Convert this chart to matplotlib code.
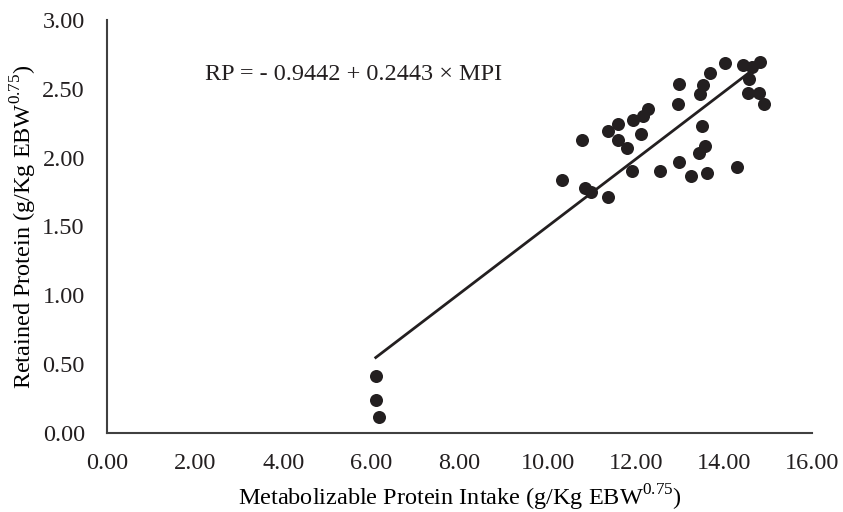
import matplotlib
matplotlib.use("Agg")
import matplotlib.pyplot as plt
import numpy as np

plt.rcParams['font.family'] = ['Liberation Serif', 'DejaVu Serif']
plt.rcParams['mathtext.fontset'] = 'custom'
plt.rcParams['mathtext.rm'] = 'Liberation Serif'

# metabolizable protein intake (x) and retained protein (y)
mpi = [6.10, 6.10, 6.17, 10.33, 10.78, 10.85, 10.98, 11.37, 11.37, 11.60,
       11.60, 11.80, 11.92, 11.94, 12.12, 12.17, 12.28, 12.55, 12.98, 12.96,
       12.98, 13.25, 13.44, 13.58, 13.50, 13.46, 13.53, 13.62, 13.69, 14.03,
       14.30, 14.43, 14.57, 14.55, 14.64, 14.80, 14.82, 14.91]
rp = [0.415, 0.24, 0.117, 1.835, 2.127, 1.777, 1.748, 1.71, 2.19, 2.245,
      2.13, 2.07, 1.905, 2.27, 2.17, 2.305, 2.35, 1.90, 2.535, 2.39,
      1.967, 1.865, 2.03, 2.085, 2.23, 2.46, 2.53, 1.89, 2.615, 2.687,
      1.93, 2.675, 2.57, 2.47, 2.66, 2.47, 2.695, 2.39]

intercept = -0.9442
slope = 0.2443

fig = plt.figure(figsize=(8.43, 5.12), dpi=100)
ax = fig.add_axes([0.127, 0.155, 0.836, 0.806])

ax.scatter(mpi, rp, s=88, color='#231f20', zorder=3, linewidths=0)
xl = np.array([min(mpi), max(mpi) - 0.1])
ax.plot(xl, intercept + slope * xl, color='#231f20', lw=2)

ax.set_xlim(0, 16)
ax.set_ylim(0, 3)
ax.set_xticks(np.arange(0, 16.1, 2))
ax.set_yticks(np.arange(0, 3.01, 0.5))
ax.set_xticklabels([f"{v:.2f}" for v in np.arange(0, 16.1, 2)])
ax.set_yticklabels([f"{v:.2f}" for v in np.arange(0, 3.01, 0.5)])
ax.tick_params(length=0, labelsize=17.5, colors='#231f20')
ax.tick_params(axis='x', pad=15)
ax.tick_params(axis='y', pad=16)

for s in ['top', 'right']:
    ax.spines[s].set_visible(False)
for s in ['left', 'bottom']:
    ax.spines[s].set_color('#404040')
    ax.spines[s].set_linewidth(1.5)

ax.set_xlabel(r"Metabolizable Protein Intake (g/Kg EBW$^{\mathrm{0.75}}$)", fontsize=17.5, labelpad=6)
ax.set_ylabel(r"Retained Protein (g/Kg EBW$^{\mathrm{0.75}}$)", fontsize=17.5, labelpad=2)

ax.text(2.22, 2.6, "RP = - 0.9442 + 0.2443 × MPI", fontsize=17.5, color='#231f20', va='center')

fig.savefig("out.png", dpi=100)
